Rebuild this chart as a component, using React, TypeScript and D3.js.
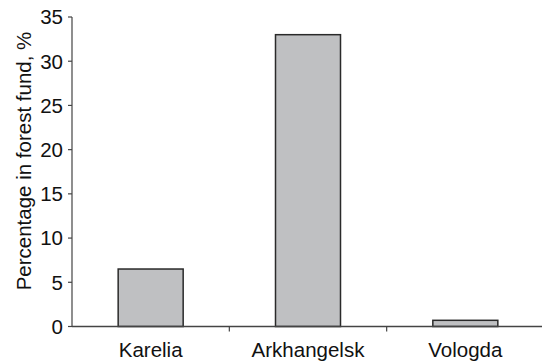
import React from "react";
import * as d3 from "d3";

const categories = ["Karelia", "Arkhangelsk", "Vologda"];
const values = [6.5, 33, 0.7];
const yTicks = [0, 5, 10, 15, 20, 25, 30, 35];
const yLabel = "Percentage in forest fund, %";

export default function App() {
  const W = 542, H = 362;
  const x0 = 72, x1 = 544, yTop = 17, yBot = 326.5;
  const x = d3.scaleBand<string>().domain(categories).range([x0, x1]).paddingInner(0).paddingOuter(0);
  const y = d3.scaleLinear().domain([0, 35]).range([yBot, yTop]);
  const bw = 65;
  const font = "Liberation Sans, Arial, sans-serif";
  return (
    <svg width={W} height={H} style={{ position: "absolute", left: 0, top: 0 }} fontFamily={font}>
      {categories.map((c, i) => {
        const cx = (x(c) as number) + x.bandwidth() / 2;
        return (
          <rect key={c} x={cx - bw / 2} y={y(values[i])} width={bw} height={yBot - y(values[i])}
            fill="#bfc0c2" stroke="#2a2a2a" strokeWidth={1.5} />
        );
      })}
      <line x1={x0} x2={x0} y1={yTop} y2={yBot} stroke="#444" strokeWidth={1.2} />
      <line x1={x0} x2={x1} y1={yBot} y2={yBot} stroke="#444" strokeWidth={1.5} />
      {yTicks.map((t) => (
        <g key={t}>
          <line x1={x0 - 4} x2={x0} y1={y(t)} y2={y(t)} stroke="#444" strokeWidth={1.2} />
          <text x={63} y={y(t)} dy="0.36em" textAnchor="end" fontSize={20.5} fill="#111">{t}</text>
        </g>
      ))}
      {categories.slice(1).map((c) => (
        <line key={c} x1={x(c) as number} x2={x(c) as number} y1={yBot} y2={yBot + 5} stroke="#444" strokeWidth={1.2} />
      ))}
      {categories.map((c) => (
        <text key={c} x={(x(c) as number) + x.bandwidth() / 2} y={357} textAnchor="middle" fontSize={20.5} fill="#111">{c}</text>
      ))}
      <text transform={`translate(31, 161) rotate(-90)`} textAnchor="middle" fontSize={20.5} fill="#111">{yLabel}</text>
    </svg>
  );
}
